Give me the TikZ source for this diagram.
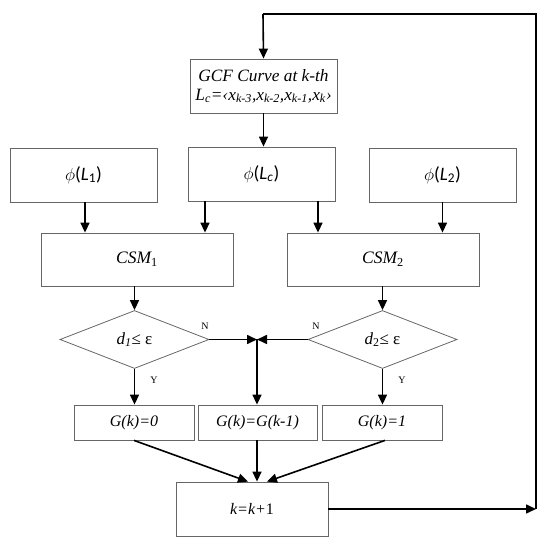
\documentclass[tikz,border=0pt]{standalone}
\usepackage{fontspec}
\setmainfont{Liberation Serif}
\newfontfamily\carl{Carlito}
\usetikzlibrary{arrows.meta,shapes.geometric,calc}
\begin{document}
\begin{tikzpicture}[x=1pt,y=-1pt,
  box/.style={draw=black!60,line width=0.8pt,rectangle,inner sep=0pt,font=\fontsize{16}{19}\selectfont\itshape},
  dia/.style={draw=black!60,line width=0.8pt,diamond,inner sep=0pt,minimum width=149pt,minimum height=58pt,font=\fontsize{17}{20}\selectfont},
  phibox/.style={box,minimum width=147pt,minimum height=54pt,font=\fontsize{19}{22}\selectfont\carl},
  gbox/.style={box,minimum width=120pt,minimum height=35pt},
  arr/.style={line width=1.6pt,-{Triangle[length=10pt,width=9pt]}},
  ln/.style={line width=1.6pt},
  lab/.style={font=\fontsize{10}{11}\selectfont,inner sep=0pt}]
\useasboundingbox (0,0) rectangle (550,548);

\node[box,minimum width=147pt,minimum height=54pt,align=center,font=\fontsize{17.3}{20}\selectfont\itshape] (GCF) at (263.5,86)
  {GCF Curve at k-th\\[-1pt]L\textsubscript{c}=‹x\textsubscript{k-3},x\textsubscript{k-2},x\textsubscript{k-1},x\textsubscript{k}›};

\node[phibox] (L1) at (83.5,175) {$\phi$({\itshape L}\textsubscript{1})};
\node[phibox] (Lc) at (261.5,174) {$\phi$({\itshape L}\textsubscript{\itshape c})};
\node[phibox] (L2) at (442.5,175) {$\phi$({\itshape L}\textsubscript{2})};

\node[box,minimum width=192pt,minimum height=53pt,font=\fontsize{17.5}{20}\selectfont\itshape] (C1) at (137,259.5) {CSM\textsubscript{\upshape 1}};
\node[box,minimum width=192pt,minimum height=53pt,font=\fontsize{17.5}{20}\selectfont\itshape] (C2) at (383,259.5) {CSM\textsubscript{\upshape 2}};

\node[dia] (D1) at (134.5,339.5) {\textit{d}\textsubscript{\itshape 1}≤ ε};
\node[dia] (D2) at (382.5,339.5) {\textit{d}\textsubscript{2}≤ ε};

\node[gbox] (G0) at (134,422.5) {G(k)=0};
\node[gbox,minimum width=119pt] (GM) at (257.5,422.5) {G(k)=G(k-1)};
\node[gbox] (G1) at (382,422.5) {G(k)=1};

\node[box,minimum width=152pt,minimum height=54pt] (K) at (252,509) {k=k+{\upshape 1}};

\coordinate (J) at (257,339.5);
\coordinate (R1) at (536,509);
\coordinate (R2) at (536,14);
\coordinate (R3) at (263,14);

\node[lab] (N1) at (205,326) {N};
\node[lab] (N2) at (316,326) {N};
\node[lab] (Y1) at (154,380) {Y};
\node[lab] (Y2) at (402,380) {Y};

% arrows
\draw[arr] (GCF.south) -- (GCF.south |- Lc.north);
\draw[arr] ([xshift=1.5pt]L1.south) -- ([xshift=1.5pt]L1.south |- C1.north);
\draw[arr] ([xshift=-56.5pt]Lc.south) -- ([xshift=-56.5pt]Lc.south |- C1.north);
\draw[arr] ([xshift=56.5pt]Lc.south) -- ([xshift=56.5pt]Lc.south |- C2.north);
\draw[arr] (L2.south) -- (L2.south |- C2.north);

\draw[arr] (C1.south -| D1.north) -- (D1.north);
\draw[arr] (C2.south -| D2.north) -- (D2.north);

\draw[arr] (D1.east) -- (J);
\draw[arr] (D2.west) -- (J);
\draw[arr] (J) -- (J |- GM.north);
\draw[arr] (D1.south) -- (D1.south |- G0.north);
\draw[arr] (D2.south) -- (D2.south |- G1.north);

\draw[arr] (G0.south) -- ([xshift=-4pt]K.north);
\draw[arr] (GM.south -| J) -- (K.north -| J);
\draw[arr] ([xshift=3pt]G1.south) -- ([xshift=15pt]K.north);

\draw[arr] (K.east) -- (R1);
\draw[ln] (R1) -- (R2) -- (R3);
\draw[arr] (R3) -- (GCF.north);
\end{tikzpicture}
\end{document}
